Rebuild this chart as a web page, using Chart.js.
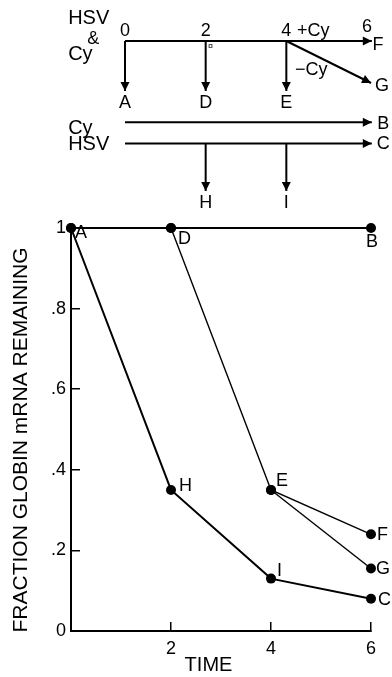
<!DOCTYPE html>
<html>
<head>
<meta charset="utf-8">
<script src="https://cdn.jsdelivr.net/npm/chart.js@4.4.0/dist/chart.umd.min.js"></script>
<style>
  body { margin: 0; background: #fff; }
  #wrap { position: relative; width: 392px; height: 677px; }
  #wrap canvas { position: absolute; left: 0; top: 0; }
</style>
</head>
<body>
<div id="wrap">
  <canvas id="scheme" width="392" height="677"></canvas>
  <canvas id="plot" width="392" height="677"></canvas>
</div>
<script>
// Fraction of globin mRNA remaining vs time (h)
const cyTimes = [0, 2, 6];
const cyValues = [1, 1, 1];
const cyLabels = ['A', 'D', 'B'];

const hsvTimes = [0, 2, 4, 6];
const hsvValues = [1, 0.35, 0.13, 0.08];
const hsvLabels = ['', 'H', 'I', 'C'];

const plusCyTimes = [2, 4, 6];
const plusCyValues = [1, 0.35, 0.24];
const plusCyLabels = ['', 'E', 'F'];

const minusCyTimes = [4, 6];
const minusCyValues = [0.35, 0.155];
const minusCyLabels = ['', 'G'];

const xTicks = [2, 4, 6];
const yTickText = { 0: '0', 0.2: '.2', 0.4: '.4', 0.6: '.6', 0.8: '.8', 1: '1' };

// schematic rows (top diagram), in time units across
const schemeTimes = [0, 2, 4, 6];
const rowMain = 0, rowTip = 2, rowCy = 3.25, rowHsv = 4.1, rowLow = 6;

const FONT = '"Liberation Sans", Arial, sans-serif';

// label offsets next to each point: [dx, dy, align]
const labelOffsets = {
  A: [4, 5, 'left'], D: [7, 11, 'left'], B: [1, 14, 'center'],
  H: [8, -4, 'left'], I: [6, -8, 'left'], C: [7, 1, 'left'],
  E: [5, -9, 'left'], F: [6, 1, 'left'], G: [5, 0, 'left']
};

function pts(xs, ys) {
  return xs.map((x, i) => ({ x: x, y: ys[i] }));
}

function series(xs, ys, labels, width) {
  return {
    data: pts(xs, ys),
    pointLabels: labels,
    showLine: true,
    borderColor: '#000',
    borderWidth: width,
    pointRadius: 5,
    pointBackgroundColor: '#000',
    pointBorderWidth: 0,
    clip: false
  };
}

const pointLabelPlugin = {
  id: 'pointLabels',
  afterDatasetsDraw(chart) {
    const ctx = chart.ctx;
    ctx.save();
    ctx.fillStyle = '#000';
    ctx.font = '18px ' + FONT;
    ctx.textBaseline = 'middle';
    chart.data.datasets.forEach((ds, i) => {
      const meta = chart.getDatasetMeta(i);
      ds.pointLabels.forEach((t, j) => {
        if (!t) return;
        const p = meta.data[j];
        const o = labelOffsets[t];
        ctx.textAlign = o[2];
        ctx.fillText(t, p.x + o[0], p.y + o[1]);
      });
    });
    // axis titles
    const xs = chart.scales.x;
    ctx.textAlign = 'center';
    ctx.font = '20px ' + FONT;
    ctx.fillText('TIME', xs.getPixelForValue(2.75), xs.top + 34);
    ctx.translate(21, 440);
    ctx.rotate(-Math.PI / 2);
    ctx.font = '21px ' + FONT;
    ctx.fillText('FRACTION GLOBIN mRNA REMAINING', 0, 0);
    ctx.restore();
  }
};

new Chart(document.getElementById('plot'), {
  type: 'scatter',
  data: {
    datasets: [
      series(cyTimes, cyValues, cyLabels, 2),
      series(hsvTimes, hsvValues, hsvLabels, 2),
      series(plusCyTimes, plusCyValues, plusCyLabels, 1.4),
      series(minusCyTimes, minusCyValues, minusCyLabels, 1.4)
    ]
  },
  options: {
    responsive: false,
    animation: false,
    devicePixelRatio: 1,
    layout: { padding: { left: 0, right: 21, top: 228, bottom: 0 } },
    plugins: { legend: { display: false }, tooltip: { enabled: false } },
    scales: {
      x: {
        type: 'linear', min: 0, max: 6,
        afterFit: s => { s.height = 46; },
        afterBuildTicks: s => { s.ticks = [0].concat(xTicks).map(v => ({ value: v })); },
        ticks: {
          color: '#000', padding: 16,
          font: { family: FONT, size: 18 },
          callback: v => (v === 0 ? '' : String(v))
        },
        grid: { drawOnChartArea: false, tickLength: -9, color: '#000', lineWidth: 1.5 },
        border: { display: true, color: '#000', width: 2 }
      },
      y: {
        type: 'linear', min: 0, max: 1,
        afterFit: s => { s.width = 71; },
        afterBuildTicks: s => { s.ticks = Object.keys(yTickText).map(v => ({ value: +v })); },
        ticks: {
          color: '#000', padding: 14,
          font: { family: FONT, size: 18 },
          callback: v => yTickText[v]
        },
        grid: { drawOnChartArea: false, tickLength: -9, color: '#000', lineWidth: 1.5 },
        border: { display: true, color: '#000', width: 2 }
      }
    }
  },
  plugins: [pointLabelPlugin]
});

// ---- top schematic ----
function arrow(x0, y0, x1, y1) {
  return {
    data: [{ x: x0, y: y0 }, { x: x1, y: y1 }],
    showLine: true, arrow: true,
    borderColor: '#000', borderWidth: 2,
    pointRadius: 0, clip: false
  };
}

const schemeTexts = [
  { t: 'HSV', x: -1.41, y: -0.92, a: 'left', s: 20 },
  { t: '&', x: -0.79, y: -0.06, a: 'center', s: 18 },
  { t: 'Cy', x: -1.41, y: 0.54, a: 'left', s: 20 },
  { t: '+Cy', x: 4.67, y: -0.38, a: 'center', s: 18 },
  { t: '\u2212Cy', x: 4.62, y: 1.18, a: 'center', s: 18 },
  { t: '\u00a4', x: 2.12, y: 0.24, a: 'center', s: 9 },
  { t: 'A', x: 0, y: 2.5, a: 'center', s: 18 },
  { t: 'D', x: 2, y: 2.5, a: 'center', s: 18 },
  { t: 'E', x: 4, y: 2.5, a: 'center', s: 18 },
  { t: 'F', x: 6.27, y: 0.18, a: 'center', s: 18 },
  { t: 'G', x: 6.37, y: 1.8, a: 'center', s: 18 },
  { t: 'Cy', x: -1.41, y: 3.48, a: 'left', s: 20 },
  { t: 'HSV', x: -1.41, y: 4.14, a: 'left', s: 20 },
  { t: 'B', x: 6.4, y: 3.34, a: 'center', s: 18 },
  { t: 'C', x: 6.4, y: 4.14, a: 'center', s: 18 },
  { t: 'H', x: 2, y: 6.48, a: 'center', s: 18 },
  { t: 'I', x: 4, y: 6.48, a: 'center', s: 18 }
];

const schemePlugin = {
  id: 'scheme',
  afterDatasetsDraw(chart) {
    const ctx = chart.ctx;
    const xs = chart.scales.x, ys = chart.scales.y;
    ctx.save();
    ctx.fillStyle = '#000';
    // arrow heads
    chart.data.datasets.forEach((ds, i) => {
      if (!ds.arrow) return;
      const m = chart.getDatasetMeta(i).data;
      const a = m[m.length - 2], b = m[m.length - 1];
      const ang = Math.atan2(b.y - a.y, b.x - a.x);
      ctx.save();
      ctx.translate(b.x, b.y);
      ctx.rotate(ang);
      ctx.beginPath();
      ctx.moveTo(0, 0);
      ctx.lineTo(-9, -4.5);
      ctx.lineTo(-9, 4.5);
      ctx.closePath();
      ctx.fill();
      ctx.restore();
    });
    ctx.textBaseline = 'middle';
    ctx.font = '18px ' + FONT;
    ctx.textAlign = 'center';
    schemeTimes.forEach(t => {
      const dy = t === 6 ? -0.14 : 0;
      ctx.fillText(String(t), xs.getPixelForValue(t), ys.getPixelForValue(-0.4 + dy));
    });
    schemeTexts.forEach(o => {
      ctx.font = o.s + 'px ' + FONT;
      ctx.textAlign = o.a;
      ctx.fillText(o.t, xs.getPixelForValue(o.x), ys.getPixelForValue(o.y));
    });
    ctx.restore();
  }
};

new Chart(document.getElementById('scheme'), {
  type: 'scatter',
  data: {
    datasets: [
      arrow(0, rowMain, 6.12, rowMain),
      arrow(0, rowMain, 0, rowTip),
      arrow(2, rowMain, 2, rowTip),
      arrow(4, rowMain, 4, rowTip),
      arrow(4, rowMain, 6.1, 1.68),
      arrow(0, rowCy, 6.12, rowCy),
      arrow(0, rowHsv, 6.12, rowHsv),
      arrow(2, rowHsv, 2, rowLow),
      arrow(4, rowHsv, 4, rowLow)
    ]
  },
  options: {
    responsive: false,
    animation: false,
    devicePixelRatio: 1,
    layout: { padding: { left: 125, right: 25, top: 41, bottom: 486 } },
    plugins: { legend: { display: false }, tooltip: { enabled: false } },
    scales: {
      x: { type: 'linear', min: 0, max: 6, display: false },
      y: { type: 'linear', min: 0, max: 6, reverse: true, display: false }
    }
  },
  plugins: [schemePlugin]
});
</script>
</body>
</html>
